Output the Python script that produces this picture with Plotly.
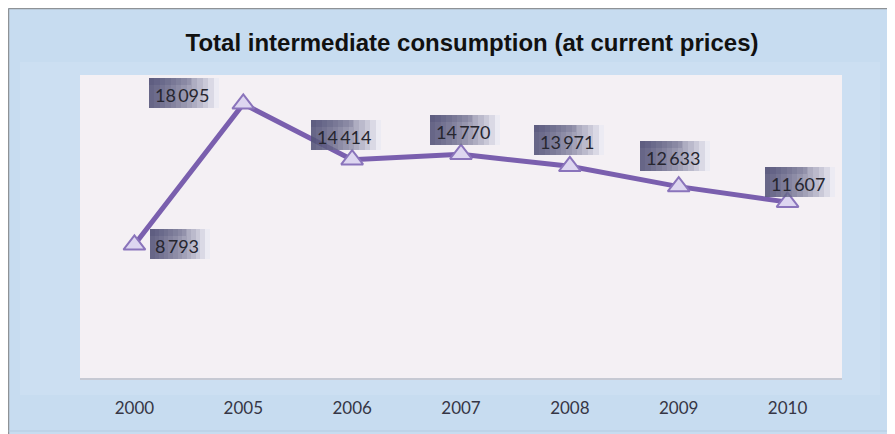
import plotly.graph_objects as go

years = ["2000", "2005", "2006", "2007", "2008", "2009", "2010"]
values = [8793, 18095, 14414, 14770, 13971, 12633, 11607]
label_texts = ["8\u2009793", "18\u2009095", "14\u2009414", "14\u2009770", "13\u2009971", "12\u2009633", "11\u2009607"]
# label offsets in pixels (text centre relative to point)
label_dx = [43, -61, -8, 2, -3, -6, 10]
label_dy = [-1, 9, 23, 22, 24, 29, 18]

OFF = 8  # page body margin
W, H = 895 - OFF, 434 - OFF
L, R, T, B = 80 - OFF, 53, 75 - OFF, 56
pw, ph = W - L - R, H - T - B

def px(x):
    return (x - OFF - L) / pw

def py(y):
    return (H - B - (y - OFF)) / ph

fig = go.Figure()
fig.add_trace(go.Scatter(
    x=years, y=values, mode="lines+markers",
    line=dict(color="#7a5fae", width=5),
    marker=dict(symbol="triangle-up", size=19, color="#ddd6f0",
                line=dict(color="#8a74bb", width=2)),
    hoverinfo="x+y", showlegend=False,
))

shapes = [
    dict(type="line", xref="paper", yref="paper", x0=px(8.5), x1=px(8.5), y0=py(440), y1=py(8.5),
         line=dict(color="#8e9296", width=1.5), layer="below"),
    dict(type="line", xref="paper", yref="paper", x0=px(8.5), x1=px(900), y0=py(8.5), y1=py(8.5),
         line=dict(color="#8e9296", width=1.5), layer="below"),
    dict(type="line", xref="paper", yref="paper", x0=px(8.5), x1=px(900), y0=py(431), y1=py(431),
         line=dict(color="#b5cbe0", width=1), layer="below"),
    dict(type="rect", xref="paper", yref="paper", x0=px(20), x1=px(880), y0=py(395), y1=py(62),
         fillcolor="rgba(210,226,244,0.45)", line=dict(width=0), layer="below"),
    dict(type="rect", xref="paper", yref="paper", x0=0, x1=1, y0=0, y1=1,
         fillcolor="#f4f0f4", line=dict(width=0), layer="below"),
    dict(type="line", xref="paper", yref="paper", x0=0, x1=1, y0=py(379), y1=py(379),
         line=dict(color="#c4c2c8", width=1.5), layer="below"),
]

annotations = []
box_h = 30
steps = 13
for i, (v, t, dx, dy) in enumerate(zip(values, label_texts, label_dx, label_dy)):
    tw = 10.4 * (len(t) - 1) + 4
    left = dx - tw / 2 - 5
    bw = tw + 14
    for k in range(steps):
        w = bw * (1 - k / steps)
        annotations.append(dict(
            x=i, y=v, xref="x", yref="y", text=" ", showarrow=False,
            xanchor="left", yanchor="middle", xshift=left, yshift=dy + 2,
            width=w, height=box_h, borderpad=0, borderwidth=0,
            bgcolor="rgba(45,45,90,0.09)" if k > 0 else "rgba(230,232,242,0.6)",
        ))
    # slight darker top band
    annotations.append(dict(
        x=i, y=v, xref="x", yref="y", text=" ", showarrow=False,
        xanchor="left", yanchor="top", xshift=left, yshift=dy + 2 + box_h / 2,
        width=bw * 0.6, height=7, borderpad=0, borderwidth=0,
        bgcolor="rgba(45,45,90,0.12)",
    ))
    annotations.append(dict(
        x=i, y=v, xref="x", yref="y", text=t, showarrow=False,
        xanchor="center", yanchor="middle", xshift=dx, yshift=dy,
        font=dict(family="Lato, Carlito, sans-serif", size=18, color="#26262f"),
    ))

fig.update_layout(
    width=W, height=H,
    margin=dict(l=L, r=R, t=T, b=B),
    paper_bgcolor="#c7dcf0",
    plot_bgcolor="rgba(0,0,0,0)",
    title=dict(text="<b>Total intermediate consumption (at current prices)</b>",
               x=(472 - OFF) / W, xanchor="center", y=1 - (43 - OFF) / H, yanchor="middle",
               font=dict(family="Liberation Sans, Arial, sans-serif", size=24, color="#111111")),
    xaxis=dict(type="category", showgrid=False, zeroline=False, showline=False,
               ticks="", tickfont=dict(family="Lato, Carlito, sans-serif", size=17, color="#363645"),
               ticklabelstandoff=18, range=[-0.5, 6.5]),
    yaxis=dict(range=[0, 20000], visible=False, showgrid=False, zeroline=False),
    shapes=shapes,
    annotations=annotations,
)

fig.write_html("out.html")
